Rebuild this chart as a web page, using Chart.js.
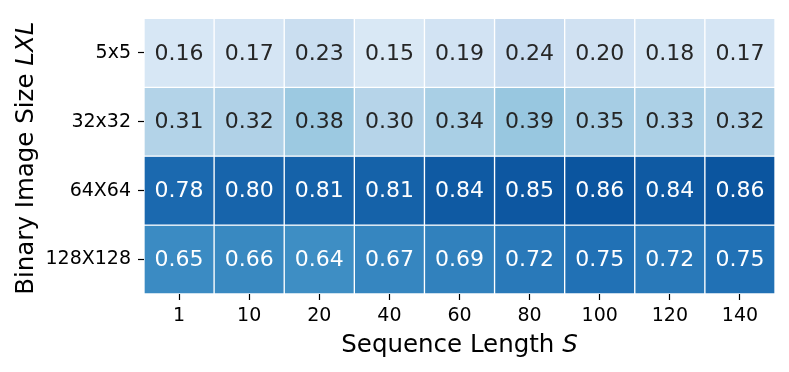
<!DOCTYPE html>
<html>
<head>
<meta charset="utf-8">
<script src="https://cdn.jsdelivr.net/npm/chart.js@4"></script>
<style>
  html, body { margin: 0; padding: 0; background: #ffffff; }
  #wrap { width: 789px; height: 372px; }
</style>
</head>
<body>
<div id="wrap"><canvas id="c" width="789" height="372"></canvas></div>
<script>
// ---- data ----
const sequenceLengths = ['1', '10', '20', '40', '60', '80', '100', '120', '140'];
const imageSizes = ['5x5', '32x32', '64X64', '128X128'];
const size5x5 = [0.16, 0.17, 0.23, 0.15, 0.19, 0.24, 0.20, 0.18, 0.17];
const size32x32 = [0.31, 0.32, 0.38, 0.30, 0.34, 0.39, 0.35, 0.33, 0.32];
const size64x64 = [0.78, 0.80, 0.81, 0.81, 0.84, 0.85, 0.86, 0.84, 0.86];
const size128x128 = [0.65, 0.66, 0.64, 0.67, 0.69, 0.72, 0.75, 0.72, 0.75];
const rows = [size5x5, size32x32, size64x64, size128x128];

// ---- matplotlib "Blues" colormap ----
const bluesStops = ['#f7fbff', '#deebf7', '#c6dbef', '#9ecae1', '#6baed6', '#4292c6', '#2171b5', '#08519c', '#08306b'];
function hexToRgb(h) { return [parseInt(h.slice(1, 3), 16), parseInt(h.slice(3, 5), 16), parseInt(h.slice(5, 7), 16)]; }
function blues(v) {
  v = Math.max(0, Math.min(1, v));
  const pos = v * (bluesStops.length - 1);
  const i = Math.min(bluesStops.length - 2, Math.floor(pos));
  const t = pos - i;
  const a = hexToRgb(bluesStops[i]), b = hexToRgb(bluesStops[i + 1]);
  return a.map((c, k) => Math.round(c + (b[k] - c) * t));
}
function rgbStr(c) { return 'rgb(' + c.join(',') + ')'; }
function luminance(c) {
  const l = c.map(x => { x /= 255; return x <= 0.03928 ? x / 12.92 : Math.pow((x + 0.055) / 1.055, 2.4); });
  return 0.2126 * l[0] + 0.7152 * l[1] + 0.0722 * l[2];
}

const FONT = "'DejaVu Sans', 'Liberation Sans', sans-serif";

const datasets = rows.map((vals, r) => ({
  label: imageSizes[r],
  data: vals.map(() => [r, r + 1]),
  values: vals,
  backgroundColor: vals.map(v => rgbStr(blues(v))),
  borderColor: '#ffffff',
  borderWidth: 1,
  borderSkipped: false,
  grouped: false,
  barPercentage: 1,
  categoryPercentage: 1
}));

const annotatePlugin = {
  id: 'annotate',
  afterDatasetsDraw(chart) {
    const ctx = chart.ctx;
    ctx.save();
    ctx.font = '22px ' + FONT;
    ctx.textAlign = 'center';
    ctx.textBaseline = 'middle';
    chart.data.datasets.forEach((ds, di) => {
      const meta = chart.getDatasetMeta(di);
      meta.data.forEach((el, i) => {
        const v = ds.values[i];
        const c = blues(v);
        ctx.fillStyle = luminance(c) > 0.408 ? '#262626' : '#ffffff';
        ctx.fillText(v.toFixed(2), el.x, (el.y + el.base) / 2 + 1);
      });
    });
    ctx.restore();
  }
};

const titlesPlugin = {
  id: 'axisTitles',
  afterDraw(chart) {
    const ctx = chart.ctx;
    const area = chart.chartArea;
    ctx.save();
    ctx.fillStyle = '#000000';
    ctx.textBaseline = 'alphabetic';
    ctx.textAlign = 'left';
    const normal = '24.5px ' + FONT;
    const italic = 'italic 24.5px ' + FONT;
    // x title
    const xa = 'Sequence Length ', xb = 'S';
    ctx.font = normal; const wa = ctx.measureText(xa).width;
    ctx.font = italic; const wb = ctx.measureText(xb).width;
    let x0 = (area.left + area.right) / 2 - (wa + wb) / 2;
    ctx.font = normal; ctx.fillText(xa, x0, 352);
    ctx.font = italic; ctx.fillText(xb, x0 + wa, 352);
    // y title
    const ya = 'Binary Image Size ', yb = 'LXL';
    ctx.font = normal; const ya_w = ctx.measureText(ya).width;
    ctx.font = italic; const yb_w = ctx.measureText(yb).width;
    ctx.translate(33, (area.top + area.bottom) / 2 + 2);
    ctx.rotate(-Math.PI / 2);
    const y0 = -(ya_w + yb_w) / 2;
    ctx.font = normal; ctx.fillText(ya, y0, 0);
    ctx.font = italic; ctx.fillText(yb, y0 + ya_w, 0);
    ctx.restore();
  }
};

new Chart(document.getElementById('c'), {
  type: 'bar',
  data: { labels: sequenceLengths, datasets: datasets },
  options: {
    responsive: false,
    animation: false,
    devicePixelRatio: 1,
    layout: { padding: { top: 14, right: 14, left: 0, bottom: 0 } },
    plugins: { legend: { display: false }, tooltip: { enabled: false }, title: { display: false } },
    scales: {
      x: {
        type: 'category',
        offset: true,
        grid: { display: true, drawOnChartArea: false, offset: false, tickLength: 6, tickColor: '#000000', tickWidth: 1.2 },
        border: { display: false },
        ticks: { color: '#000000', font: { family: FONT, size: 19 }, padding: 5, maxRotation: 0, autoSkip: false },
        afterFit(scale) { scale.height = 78; }
      },
      y: {
        type: 'linear',
        min: 0,
        max: 4,
        reverse: true,
        afterBuildTicks(scale) { scale.ticks = [0.5, 1.5, 2.5, 3.5].map(v => ({ value: v })); },
        grid: { display: true, drawOnChartArea: false, tickLength: 6, tickColor: '#000000', tickWidth: 1.2 },
        border: { display: false },
        ticks: {
          color: '#000000', font: { family: FONT, size: 19 }, padding: 7,
          callback: (v) => imageSizes[Math.floor(v)]
        },
        afterFit(scale) { scale.width = 144; }
      }
    }
  },
  plugins: [annotatePlugin, titlesPlugin]
});
</script>
</body>
</html>
